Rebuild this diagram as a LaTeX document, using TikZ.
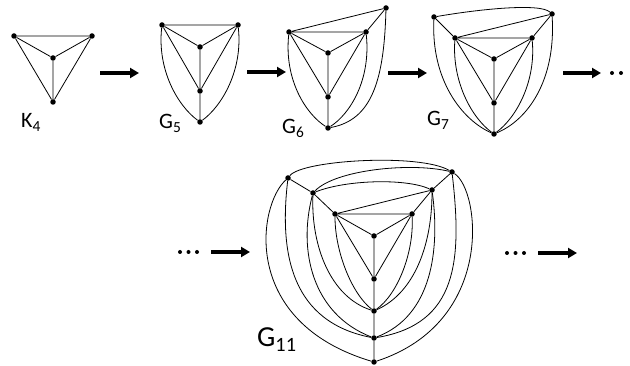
\documentclass[tikz,border=0pt]{standalone}
\usepackage{fontspec}
\setmainfont{Carlito}
\usetikzlibrary{arrows.meta}
\begin{document}
\begin{tikzpicture}[x=1pt,y=-1pt,
  vtx/.style={circle,fill=black,inner sep=0pt,minimum size=5.5pt},
  edge/.style={line width=0.8pt},
  bigarrow/.style={line width=3.5pt,-{Triangle[length=9pt,width=10pt]}},
  dotsym/.style={circle,fill=black,inner sep=0pt,minimum size=4pt},
  lbl/.style={font=\fontsize{22}{22}\selectfont,anchor=base west,inner sep=0pt},
  biglbl/.style={font=\fontsize{29}{29}\selectfont,anchor=base west,inner sep=0pt},
]
\useasboundingbox (0,0) rectangle (630,366);

% ---------- K4 ----------
\node[vtx] (k1) at (14,36) {};
\node[vtx] (k2) at (92,36) {};
\node[vtx] (k3) at (53,58) {};
\node[vtx] (k4) at (53,102) {};
\draw[edge] (k1) -- (k2) (k1) -- (k3) (k2) -- (k3) (k3) -- (k4) (k1) -- (k4) (k2) -- (k4);
\node[lbl] (lk) at (21,128) {K\textsubscript{4}};

% ---------- G5 ----------
\node[vtx] (a1) at (162,25) {};
\node[vtx] (a2) at (238,25) {};
\node[vtx] (a3) at (200,47) {};
\node[vtx] (a4) at (200,91) {};
\node[vtx] (a5) at (200,122) {};
\draw[edge] (a1) -- (a2) (a1) -- (a3) (a2) -- (a3) (a3) -- (a4) (a4) -- (a5)
  (a1) -- (a4) (a2) -- (a4);
\draw[edge] (a1) .. controls (157,70) and (178,106) .. (a5);
\draw[edge] (a2) .. controls (243,70) and (222,106) .. (a5);
\node[lbl] (l5) at (159,129) {G\textsubscript{5}};

% ---------- G6 ----------
\node[vtx] (b1) at (289,32) {};
\node[vtx] (b2) at (366,32) {};
\node[vtx] (b3) at (328,53) {};
\node[vtx] (b4) at (328,97) {};
\node[vtx] (b5) at (328,128) {};
\node[vtx] (b6) at (386,8) {};
\draw[edge] (b1) -- (b2) (b1) -- (b3) (b2) -- (b3) (b3) -- (b4) (b4) -- (b5)
  (b1) -- (b4) (b2) -- (b4) (b6) -- (b1) (b6) -- (b2);
\draw[edge] (b1) .. controls (284,80) and (306,114) .. (b5);
\draw[edge] (b2) .. controls (371,80) and (350,114) .. (b5);
\draw[edge] (b6) .. controls (384,80) and (372,120) .. (b5);
\node[lbl] (l6) at (282,134) {G\textsubscript{6}};

% ---------- G7 ----------
\node[vtx] (c1) at (434,17) {};
\node[vtx] (c2) at (552,14) {};
\node[vtx] (c3) at (455,38) {};
\node[vtx] (c4) at (532,38) {};
\node[vtx] (c5) at (494,59) {};
\node[vtx] (c6) at (494,103) {};
\node[vtx] (c7) at (494,134) {};
\draw[edge] (c3) -- (c4) (c3) -- (c5) (c4) -- (c5) (c5) -- (c6) (c6) -- (c7)
  (c3) -- (c6) (c4) -- (c6) (c1) -- (c3) (c2) -- (c3) (c2) -- (c4);
\draw[edge] (c1) .. controls (480,9) and (540,3) .. (c2);
\draw[edge] (c1) .. controls (431,80) and (462,120) .. (c7);
\draw[edge] (c2) .. controls (556,80) and (528,120) .. (c7);
\draw[edge] (c3) .. controls (452,82) and (472,118) .. (c7);
\draw[edge] (c4) .. controls (536,82) and (516,118) .. (c7);
\node[lbl] (l7) at (427,126) {G\textsubscript{7}};

% ---------- G11 ----------
\node[vtx] (A)  at (288,178) {};
\node[vtx] (Bt) at (452,172) {};
\node[vtx] (D)  at (313,193) {};
\node[vtx] (E)  at (432,190) {};
\node[vtx] (TL) at (335,214) {};
\node[vtx] (TR) at (412,214) {};
\node[vtx] (C)  at (374,236) {};
\node[vtx] (M)  at (374,279) {};
\node[vtx] (B1) at (374,311) {};
\node[vtx] (B2) at (374,338) {};
\node[vtx] (Bo) at (374,362) {};
\draw[edge] (TL) -- (TR) (TL) -- (C) (TR) -- (C) (C) -- (M) (M) -- (B1)
  (B1) -- (B2) (B2) -- (Bo) (TL) -- (M) (TR) -- (M) (TL) -- (E) (TR) -- (E)
  (D) -- (TL) (A) -- (D) (E) -- (Bt);
% top arcs
\draw[edge] (A) .. controls (302,160) and (420,153) .. (Bt);
\draw[edge] (D) .. controls (335,170) and (410,162) .. (Bt);
\draw[edge] (D) .. controls (345,180) and (405,178) .. (E);
% left curves
\draw[edge] (A) .. controls (258,205) and (240,322) .. (Bo);
\draw[edge] (A) .. controls (279,255) and (292,322) .. (B2);
\draw[edge] (D) .. controls (298,250) and (312,314) .. (B2);
\draw[edge] (D) .. controls (311,245) and (330,297) .. (B1);
\draw[edge] (TL) .. controls (335,252) and (352,294) .. (B1);
% right curves
\draw[edge] (Bt) .. controls (480,190) and (496,322) .. (Bo);
\draw[edge] (Bt) .. controls (462,260) and (458,324) .. (B2);
\draw[edge] (E) .. controls (440,250) and (432,316) .. (B2);
\draw[edge] (E) .. controls (432,242) and (416,292) .. (B1);
\draw[edge] (TR) .. controls (414,252) and (398,294) .. (B1);
\node[biglbl] (l11) at (257,347) {G\textsubscript{11}};

% ---------- arrows ----------
\coordinate (r1s) at (100,73); \coordinate (r1e) at (139,73);
\coordinate (r2s) at (247,72); \coordinate (r2e) at (286,72);
\coordinate (r3s) at (388,73); \coordinate (r3e) at (427,73);
\coordinate (r4s) at (563,73); \coordinate (r4e) at (601,73);
\coordinate (r5s) at (211,252); \coordinate (r5e) at (250,252);
\coordinate (r6s) at (538,253); \coordinate (r6e) at (577,253);
\draw[bigarrow] (r1s) -- (r1e);
\draw[bigarrow] (r2s) -- (r2e);
\draw[bigarrow] (r3s) -- (r3e);
\draw[bigarrow] (r4s) -- (r4e);
\draw[bigarrow] (r5s) -- (r5e);
\draw[bigarrow] (r6s) -- (r6e);

% ---------- dots ----------
\node[dotsym] (d1) at (612,73) {};
\node[dotsym] (d2) at (621,73) {};
\node[dotsym] (d3) at (180,252) {};
\node[dotsym] (d4) at (188.5,252) {};
\node[dotsym] (d5) at (197,252) {};
\node[dotsym] (d6) at (507,253) {};
\node[dotsym] (d7) at (515.5,253) {};
\node[dotsym] (d8) at (524,253) {};
\end{tikzpicture}
\end{document}
